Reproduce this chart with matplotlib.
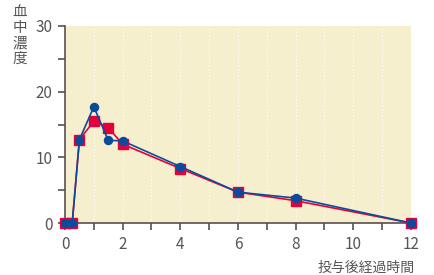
import matplotlib
matplotlib.use("Agg")
import matplotlib.pyplot as plt
from matplotlib.ticker import MultipleLocator

plt.rcParams['font.family'] = ['Noto Sans CJK JP', 'DejaVu Sans']

time = [0, 0.25, 0.5, 1, 1.5, 2, 4, 6, 8, 12]
red_vals = [0, 0, 12.7, 15.5, 14.5, 12.0, 8.3, 4.7, 3.4, 0]
blue_vals = [0, 0, 12.7, 17.7, 12.6, 12.5, 8.6, 4.7, 3.8, 0]
x_ticks = [0, 2, 4, 6, 8, 10, 12]
y_ticks = [0, 10, 20, 30]
y_label = "血\n中\n濃\n度"
x_label = "投与後経過時間"

fig = plt.figure(figsize=(4.34, 2.75), dpi=100)
ax = fig.add_axes([0.1498, 0.189, 0.797, 0.7165])
ax.set_facecolor('#F5EFCD')

ax.plot(time, red_vals, color='#E5003C', lw=1.2, marker='s', ms=7.5, zorder=3, clip_on=False)
ax.plot(time, blue_vals, color='#0A4C9C', lw=1.2, marker='o', ms=5.8, zorder=4, clip_on=False)

ax.set_xlim(0, 12)
ax.set_ylim(0, 30)
ax.set_xticks(x_ticks)
ax.set_yticks(y_ticks)
ax.xaxis.set_minor_locator(MultipleLocator(1))
ax.yaxis.set_minor_locator(MultipleLocator(5))
ax.grid(axis='x', which='both', color='white', ls=(0, (1, 2)), lw=0.8)
ax.set_axisbelow(True)

for s in ['top', 'right']:
    ax.spines[s].set_visible(False)
for s in ['left', 'bottom']:
    ax.spines[s].set_color('#5a5050')
    ax.spines[s].set_linewidth(1.2)

ax.tick_params(which='both', direction='out', color='#5a5050', width=1.2, labelcolor='#555555', labelsize=11)
ax.tick_params(which='major', length=5, pad=4)
ax.tick_params(which='minor', length=5)

fig.text(20 / 434, 1 - 6 / 275, y_label, ha='center', va='top', fontsize=10.5,
         color='#555555', linespacing=1.1)
fig.text(415 / 434, 1 - 268 / 275, x_label, ha='right', va='center', fontsize=10,
         color='#555555')

fig.savefig('out.png', dpi=100)
